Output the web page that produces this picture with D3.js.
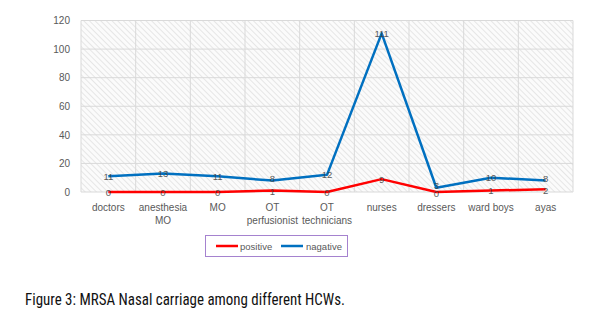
<!DOCTYPE html>
<html><head><meta charset="utf-8">
<script src="https://cdn.jsdelivr.net/npm/d3@7"></script>
<style>body{margin:0;background:#fff;}svg{display:block;}</style>
</head><body>
<script>
const categories = [["doctors"],["anesthesia","MO"],["MO"],["OT","perfusionist"],["OT","technicians"],["nurses"],["dressers"],["ward boys"],["ayas"]];
const positive = [0,0,0,1,0,9,0,1,2];
const negative = [11,13,11,8,12,111,3,10,8];
const yTicks = [0,20,40,60,80,100,120];
const seriesNames = ["positive","nagative"];
const caption = "Figure 3: MRSA Nasal carriage among different HCWs.";

const W=598,H=325;
const svg=d3.select("body").append("svg").attr("width",W).attr("height",H);
const defs=svg.append("defs");
const pat=defs.append("pattern").attr("id","hatch").attr("patternUnits","userSpaceOnUse")
  .attr("width",4).attr("height",4).attr("patternTransform","rotate(-45)");
pat.append("rect").attr("width",4).attr("height",4).attr("fill","#fbfbfb");
pat.append("line").attr("x1",0).attr("y1",0).attr("x2",0).attr("y2",4).attr("stroke","#dedede").attr("stroke-width",1.4);

const L=81,R=573,T=20.5,B=192;
const x=d3.scaleBand().domain(d3.range(categories.length)).range([L,R]);
const y=d3.scaleLinear().domain([0,120]).range([B,T]);

svg.append("rect").attr("x",L).attr("y",T).attr("width",R-L).attr("height",B-T).attr("fill","url(#hatch)");

const g=svg.append("g");
g.selectAll(".hg").data(yTicks).join("line").attr("x1",L).attr("x2",R)
  .attr("y1",d=>y(d)).attr("y2",d=>y(d)).attr("stroke","#d9d9d9").attr("stroke-width",1);
g.selectAll(".vg").data(d3.range(categories.length+1)).join("line")
  .attr("x1",i=>i<categories.length?x(i):R).attr("x2",i=>i<categories.length?x(i):R)
  .attr("y1",T).attr("y2",B).attr("stroke","#d9d9d9").attr("stroke-width",1);

const yAxis=d3.axisLeft(y).tickValues(yTicks).tickSize(0).tickPadding(11);
const ya=svg.append("g").attr("transform",`translate(${L},0)`).call(yAxis);
ya.select(".domain").remove();
ya.selectAll("text").attr("fill","#595959").style("font-family","'Liberation Sans',Arial,sans-serif").style("font-size","10px");

const xAxis=d3.axisBottom(x).tickSize(0).tickFormat(()=> "");
const xa=svg.append("g").attr("transform",`translate(0,${B})`).call(xAxis);
xa.select(".domain").remove();
xa.selectAll(".tick").each(function(i){
  const t=d3.select(this).append("text").attr("fill","#595959").attr("text-anchor","middle")
    .style("font-family","'Liberation Sans',Arial,sans-serif").style("font-size","10px");
  categories[i].forEach((s,k)=>t.append("tspan").attr("x",0).attr("y",19+k*13).text(s));
});

const cx=i=>x(i)+x.bandwidth()/2;
const line=d3.line().x((d,i)=>cx(i)).y(d=>y(d));
const colors=["#ff0000","#0070c0"];
[positive,negative].forEach((s,k)=>{
  svg.append("path").datum(s).attr("d",line).attr("fill","none").attr("stroke",colors[k])
    .attr("stroke-width",2.5).attr("stroke-linejoin","round");
});
[positive,negative].forEach((s,k)=>{
  svg.append("g").selectAll("text").data(s).join("text")
    .attr("x",(d,i)=>cx(i)).attr("y",(d,i)=>y(d)+3.5-(k===1 && d-positive[i]<8 ? 2 : 0)+(k===0 && negative[i]-d<8 ? 1 : 0)).attr("text-anchor","middle")
    .attr("fill","#404040").attr("opacity",0.85)
    .style("font-family","'Liberation Sans',Arial,sans-serif").style("font-size","9.5px").text(d=>d);
});

// legend
const lg=svg.append("g");
lg.append("rect").attr("x",205.5).attr("y",235.5).attr("width",142).attr("height",21)
  .attr("fill","#fff").attr("stroke","#a582cf").attr("stroke-width",1);
const items=[{x:216,tx:240},{x:281,tx:306}];
items.forEach((it,k)=>{
  lg.append("line").attr("x1",it.x).attr("x2",it.x+22).attr("y1",246).attr("y2",246)
    .attr("stroke",colors[k]).attr("stroke-width",2.5);
  lg.append("text").attr("x",it.tx).attr("y",249.5).attr("fill","#595959")
    .style("font-family","'Liberation Sans',Arial,sans-serif").style("font-size","9.5px").text(seriesNames[k]);
});

svg.append("text").attr("x",25).attr("y",305).attr("fill","#111")
  .style("font-family","'Liberation Sans Narrow','Roboto Condensed','Liberation Sans',Arial,sans-serif")
  .style("font-size","16.5px").attr("textLength",320).attr("lengthAdjust","spacingAndGlyphs").text(caption);
</script>
</body></html>
